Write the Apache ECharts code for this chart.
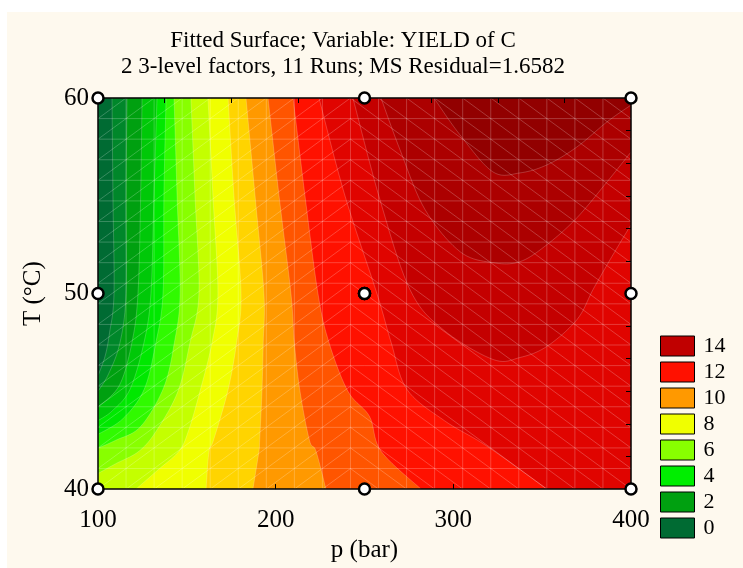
<!DOCTYPE html>
<html><head><meta charset="utf-8">
<script src="https://cdn.jsdelivr.net/npm/echarts@6/dist/echarts.min.js"></script>
<style>html,body{margin:0;padding:0;background:#fff;}#c{width:743px;height:568px;}</style>
</head><body><div id="c"></div>
<script>
// ---- data ----
const titleLine1 = 'Fitted Surface; Variable: YIELD of C';
const titleLine2 = '2 3-level factors, 11 Runs; MS Residual=1.6582';
const xName = 'p (bar)';
const yName = 'T (°C)';
const pRange = [100, 400];
const tRange = [40, 60];

// design runs (p, T)
const runsP = [100, 100, 100, 250, 250, 250, 250, 250, 400, 400, 400];
const runsT = [40, 50, 60, 40, 50, 50, 50, 60, 40, 50, 60];

// contour levels and the contour lines: [p, T] points
const levels = [1, 2, 3, 4, 5, 6, 7, 8, 9, 10, 11, 12, 13, 14, 15, 16];
const c01 = [[107.9,60],[108.4,55],[109,50],[106.5,48],[104,46.8],[100,45.8]];
const c02 = [[116.3,60],[115.8,55],[115.8,50],[112.4,47.5],[106,45.9],[100,45]];
const c03 = [[124.8,60],[124,55],[122.5,50],[119.1,47.5],[112,45.3],[100,44.2]];
const c04 = [[133.2,60],[131.5,55],[129.8,50],[125.9,47.5],[118,45.1],[108,44],[100,43.5]];
const c05 = [[138.3,60],[137.1,55],[136.6,50],[132.6,47.5],[126,45.1],[114,43.6],[100,42.8]];
const c06 = [[142.8,60],[144.5,55],[146.2,50],[143,47.5],[137,45.2],[124,43.2],[110,42.5],[100,42.1]];
const c07 = [[152.3,60],[154.6,55],[156.8,50],[151.8,47.5],[145,45],[133,43],[123.1,41.94],[110,41.3],[100,40.8]];
const c08 = [[161.9,60],[164.7,55],[167.5,50],[164.2,47.5],[157.4,45],[151,43],[145.6,41.94],[134,41],[121.4,40]];
const c09 = [[173.2,60],[176.5,55],[180.5,50],[178,47.5],[173,45],[165,42.5],[162.5,41.94],[160.8,40]];
const c10 = [[183.3,60],[188.4,55],[193.4,50],[193,47.5],[192.3,45],[191,42.5],[190.6,41.94],[187.2,40]];
const c11 = [[195.7,60],[201.9,55],[208.6,50],[210.5,47.5],[213.7,45],[219,42.5],[222.7,41.94],[228.3,40]];
const c12 = [[209.8,60],[216.5,55],[223.8,50],[230,47.5],[240.7,45],[252.8,43.72],[259.3,41.94],[281.8,40]];
const c13 = [[224.4,60],[239,55],[257,50],[265,47.5],[273.9,45.1],[295,43.5],[319,42.19],[352.7,40]];
const c14 = [[243.5,60],[258.7,54.8],[275.6,50.2],[294.2,48.16],[322.3,46.63],[337.5,46.73],[352.7,47.3],[369.6,48.67],[378.6,50.2],[388.2,51.73],[400,53.52]];
const c15 = [[259.3,60],[270,57.35],[284.1,54.29],[303.8,52.14],[322.3,51.58],[337.5,51.63],[352.7,52.5],[369.6,53.88],[386.5,55.71],[400,57.24]];
const c16 = [[289.1,60],[303.8,58.11],[322.3,56.22],[337.5,56.17],[352.7,56.58],[369.6,57.5],[386.5,58.78],[400,59.64]];
const contourLines = [c01,c02,c03,c04,c05,c06,c07,c08,c09,c10,c11,c12,c13,c14,c15,c16];

// band colours (band 0 = below first level)
const bandColors = ['#006b33','#00872a','#00a010','#00c808','#00e800','#30fa00','#88ff00','#c4ff00',
  '#f0ff00','#ffd400','#ff9900','#ff5500','#ff1100','#e00400','#c40000','#ac0000','#920000'];

// legend
const legendLabels = ['14','12','10','8','6','4','2','0'];
const legendColors = ['#c00000','#ff1100','#ff9900','#f0ff00','#88ff00','#00ee00','#00a010','#006b33'];

// ---- drawing ----
const FONT = '"Liberation Serif","Times New Roman",serif';
const P0 = pRange[0], P1 = pRange[1], T0 = tRange[0], T1 = tRange[1];
const MESH = 19; // triangulation mesh cells per side

function perim(pt) {
  const p = pt[0], t = pt[1], e = 1e-6;
  if (Math.abs(t - T1) < e) return (p - P0) / (P1 - P0);
  if (Math.abs(p - P1) < e) return 1 + (T1 - t) / (T1 - T0);
  if (Math.abs(t - T0) < e) return 2 + (P1 - p) / (P1 - P0);
  return 3 + (t - T0) / (T1 - T0);
}
const corners = [[P0, T1], [P1, T1], [P1, T0], [P0, T0]];
function closingCorners(line) {
  const sStart = perim(line[0]);
  const sEnd = perim(line[line.length - 1]);
  const dcw = (sStart - sEnd + 4) % 4;
  const cw = [];
  for (let k = 0; k < 4; k++) {
    const dk = (k - sEnd + 4) % 4;
    if (dk > 0 && dk < dcw) cw.push([dk, k]);
  }
  cw.sort((a, b) => a[0] - b[0]);
  if (cw.some(c => c[1] === 1)) return cw.map(c => corners[c[1]]);
  const dccw = (sEnd - sStart + 4) % 4;
  const ccw = [];
  for (let k = 0; k < 4; k++) {
    const dk = (sEnd - k + 4) % 4;
    if (dk > 0 && dk < dccw) ccw.push([dk, k]);
  }
  ccw.sort((a, b) => a[0] - b[0]);
  return ccw.map(c => corners[c[1]]);
}
// smooth pixel polyline (Catmull-Rom) for drawing
function spline(px) {
  if (px.length < 3) return px;
  const out = [];
  const n = px.length;
  for (let i = 0; i < n - 1; i++) {
    const p0 = px[Math.max(i - 1, 0)], p1 = px[i], p2 = px[i + 1], p3 = px[Math.min(i + 2, n - 1)];
    const steps = 10;
    for (let s = 0; s < steps; s++) {
      const t = s / steps, t2 = t * t, t3 = t2 * t;
      out.push([0, 1].map(k => 0.5 * ((2 * p1[k]) + (-p0[k] + p2[k]) * t + (2 * p0[k] - 5 * p1[k] + 4 * p2[k] - p3[k]) * t2 + (-p0[k] + 3 * p1[k] - 3 * p2[k] + p3[k]) * t3)));
    }
  }
  out.push(px[n - 1]);
  return out;
}

const chart = echarts.init(document.getElementById('c'));
const legendSeries = legendLabels.map((n, i) => ({
  name: n, type: 'line', data: [], itemStyle: { color: legendColors[i] }, lineStyle: { color: legendColors[i] }
}));

const bandData = [[P0, T1, 0]].concat(contourLines.map((l, i) => [l[0][0], l[0][1], i + 1]));

chart.setOption({
  animation: false,
  backgroundColor: '#ffffff',
  graphic: [{ type: 'rect', z: -100, silent: true, shape: { x: 7, y: 12, width: 736, height: 556 }, style: { fill: '#fef9ee' } }],
  title: [
    { text: titleLine1, left: 338, top: 24, textAlign: 'center', textStyle: { fontFamily: FONT, fontSize: 23, fontWeight: 'normal', color: '#000' } },
    { text: titleLine2, left: 338, top: 50, textAlign: 'center', textStyle: { fontFamily: FONT, fontSize: 23, fontWeight: 'normal', color: '#000' } }
  ],
  legend: {
    orient: 'vertical', left: 660, top: 335, padding: 0, icon: 'rect', itemWidth: 34, itemHeight: 20, itemGap: 4,
    selectedMode: false,
    itemStyle: { borderColor: '#000', borderWidth: 1 },
    textStyle: { fontFamily: FONT, fontSize: 22, color: '#000', padding: [0, 0, 0, 4] },
    data: legendLabels
  },
  grid: { left: 98, right: 112, top: 98, bottom: 78, containLabel: false },
  xAxis: [
    { type: 'value', min: P0, max: P1, interval: 100, position: 'bottom', z: 10,
      name: xName, nameLocation: 'middle', nameGap: 47,
      nameTextStyle: { fontFamily: FONT, fontSize: 25, color: '#000' },
      axisLine: { lineStyle: { color: '#000', width: 1.5 } },
      axisTick: { inside: true, length: 5, lineStyle: { color: '#000' } },
      axisLabel: { fontFamily: FONT, fontSize: 25, color: '#000', margin: 19 },
      splitLine: { show: false } },
    { type: 'value', min: P0, max: P1, interval: (P1 - P0) / 8, position: 'top', z: 10,
      axisLine: { lineStyle: { color: '#000', width: 1.5 } },
      axisTick: { inside: true, length: 5, lineStyle: { color: '#000' } },
      axisLabel: { show: false }, splitLine: { show: false } }
  ],
  yAxis: [
    { type: 'value', min: T0, max: T1, interval: 10, position: 'left', z: 10,
      name: yName, nameLocation: 'middle', nameGap: 52, nameRotate: 90,
      nameTextStyle: { fontFamily: FONT, fontSize: 25, color: '#000' },
      axisLine: { lineStyle: { color: '#000', width: 1.5 } },
      axisTick: { inside: true, length: 5, lineStyle: { color: '#000' } },
      axisLabel: { fontFamily: FONT, fontSize: 25, color: '#000', margin: 9 },
      splitLine: { show: false } },
    { type: 'value', min: T0, max: T1, interval: (T1 - T0) / 12, position: 'right', z: 10,
      axisLine: { lineStyle: { color: '#000', width: 1.5 } },
      axisTick: { inside: true, length: 5, lineStyle: { color: '#000' } },
      axisLabel: { show: false }, splitLine: { show: false } }
  ],
  series: [
    {
      type: 'custom', z: 1, silent: true,
      data: bandData,
      encode: { x: 0, y: 1 },
      renderItem: function (params, api) {
        const i = api.value(2);
        const cs = params.coordSys;
        let pts;
        if (i === 0) {
          pts = corners.map(pt => api.coord(pt));
        } else {
          const line = contourLines[i - 1];
          pts = spline(line.map(pt => api.coord(pt))).concat(closingCorners(line).map(pt => api.coord(pt)));
        }
        return { type: 'polygon', shape: { points: pts },
          clipPath: { type: 'rect', shape: { x: cs.x, y: cs.y, width: cs.width, height: cs.height } },
          style: { fill: bandColors[i], stroke: 'rgba(255,255,255,0.2)', lineWidth: 1 } };
      }
    },
    {
      // faint triangulation mesh of the fitted surface
      type: 'custom', z: 2, silent: true,
      data: [[P0, T0]],
      encode: { x: 0, y: 1 },
      renderItem: function (params, api) {
        const children = [];
        const sty = { stroke: 'rgba(255,255,255,0.22)', lineWidth: 1 };
        const pv = k => P0 + k * (P1 - P0) / MESH;
        const tv = k => T0 + k * (T1 - T0) / MESH;
        for (let k = 1; k < MESH; k++) {
          const a = api.coord([pv(k), T0]), b = api.coord([pv(k), T1]);
          children.push({ type: 'line', shape: { x1: a[0], y1: a[1], x2: b[0], y2: b[1] }, style: sty });
          const c = api.coord([P0, tv(k)]), d = api.coord([P1, tv(k)]);
          children.push({ type: 'line', shape: { x1: c[0], y1: c[1], x2: d[0], y2: d[1] }, style: sty });
        }
        for (let i = 0; i < MESH; i++) {
          for (let j = 0; j < MESH; j++) {
            let a, b;
            if (i < 9) { a = api.coord([pv(i), tv(j)]); b = api.coord([pv(i + 1), tv(j + 1)]); }
            else { a = api.coord([pv(i), tv(j + 1)]); b = api.coord([pv(i + 1), tv(j)]); }
            children.push({ type: 'line', shape: { x1: a[0], y1: a[1], x2: b[0], y2: b[1] }, style: sty });
          }
        }
        return { type: 'group', children: children };
      }
    },
    {
      type: 'scatter', z: 20, silent: true,
      data: runsP.map((p, i) => [p, runsT[i]]),
      symbol: 'circle', symbolSize: 11,
      itemStyle: { color: '#fff', borderColor: '#000', borderWidth: 2.5, opacity: 1 }
    }
  ].concat(legendSeries)
});
</script>
</body></html>
